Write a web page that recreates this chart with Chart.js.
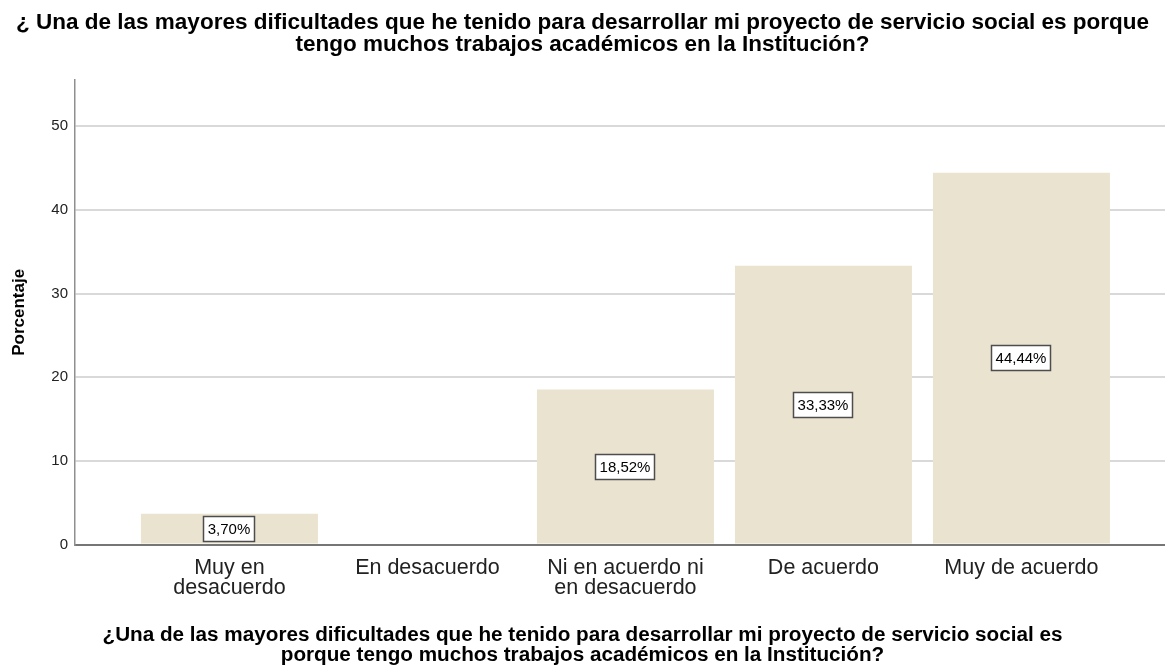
<!DOCTYPE html>
<html>
<head>
<meta charset="utf-8">
<script src="https://cdn.jsdelivr.net/npm/chart.js@4.4.1/dist/chart.umd.min.js"></script>
<style>
    html, body { margin: 0; padding: 0; background: #fff; }
    #wrap { width: 1165px; height: 669px; }
</style>
</head>
<body>
<div id="wrap"><canvas id="porcentajeChart" width="1165" height="669"></canvas></div>
<script>
const categorias = [["Muy en", "desacuerdo"], "En desacuerdo", ["Ni en acuerdo ni", "en desacuerdo"], "De acuerdo", "Muy de acuerdo"];
const porcentajes = [3.70, 0, 18.52, 33.33, 44.44];
const yTicks = [0, 10, 20, 30, 40, 50];
const tituloGrafico = [
    "¿ Una de las mayores dificultades que he tenido para desarrollar mi proyecto de servicio social es porque",
    "tengo muchos trabajos académicos en la Institución?"
];
const tituloEjeX = [
    "¿Una de las mayores dificultades que he tenido para desarrollar mi proyecto de servicio social es",
    "porque tengo muchos trabajos académicos en la Institución?"
];
const tituloEjeY = "Porcentaje";

const fuente = '"Liberation Sans", Arial, sans-serif';

// etiqueta con recuadro en el centro de cada barra
const etiquetasBarras = {
    id: "etiquetasBarras",
    afterDatasetsDraw(chart) {
        const ctx = chart.ctx;
        const meta = chart.getDatasetMeta(0);
        ctx.save();
        ctx.font = "15px " + fuente;
        ctx.textAlign = "center";
        ctx.textBaseline = "middle";
        meta.data.forEach((bar, i) => {
            const v = porcentajes[i];
            if (!v) return;
            const txt = v.toFixed(2).replace(".", ",") + "%";
            const w = Math.round(ctx.measureText(txt).width + 8);
            const h = 25;
            const cx = Math.round(bar.x);
            const cy = Math.round((bar.y + bar.base) / 2);
            ctx.fillStyle = "#ffffff";
            ctx.fillRect(cx - w / 2, cy - h / 2, w, h);
            ctx.strokeStyle = "#4d4d4d";
            ctx.lineWidth = 1.5;
            ctx.strokeRect(cx - w / 2, cy - h / 2, w, h);
            ctx.fillStyle = "#000";
            ctx.fillText(txt, cx, cy + 1);
        });
        ctx.restore();
    }
};

new Chart(document.getElementById("porcentajeChart").getContext("2d"), {
    type: "bar",
    data: {
        datasets: [{
            data: porcentajes.map((p, i) => ({ x: i, y: p })),
            backgroundColor: "#EAE3CF",
            borderWidth: 0,
            categoryPercentage: 1,
            barPercentage: 0.894
        }]
    },
    options: {
        responsive: false,
        animation: false,
        devicePixelRatio: 1,
        layout: { padding: 0 },
        plugins: {
            legend: { display: false },
            tooltip: { enabled: false },
            title: {
                display: true,
                text: tituloGrafico,
                color: "#000",
                font: { family: fuente, size: 22.5, weight: "bold", lineHeight: 0.98 },
                padding: { top: 12, bottom: 24 }
            },
            subtitle: {
                display: true,
                position: "bottom",
                text: tituloEjeX,
                color: "#000",
                font: { family: fuente, size: 20.7, weight: "bold", lineHeight: 1.0 },
                padding: { top: 0, bottom: 3 }
            }
        },
        scales: {
            x: {
                type: "linear",
                offset: false,
                min: -0.78,
                max: 4.725,
                afterBuildTicks: (scale) => { scale.ticks = categorias.map((c, i) => ({ value: i })); },
                afterFit: (scale) => { scale.height = 80; },
                grid: { display: false, drawTicks: false },
                border: { display: true, color: "#767676", width: 2 },
                ticks: {
                    autoSkip: false,
                    maxRotation: 0,
                    padding: 13,
                    color: "#222",
                    font: { family: fuente, size: 21.5, lineHeight: 0.95 },
                    callback: (v) => categorias[v]
                }
            },
            y: {
                min: 0,
                max: 55.5,
                afterBuildTicks: (scale) => { scale.ticks = yTicks.map(v => ({ value: v })); },
                afterFit: (scale) => { scale.width = 75; },
                grid: { color: "#d9d9d9", lineWidth: 2, drawTicks: false },
                border: { display: true, color: "#8f8f8f", width: 1.5 },
                ticks: {
                    padding: 7,
                    color: "#222",
                    font: { family: fuente, size: 15 }
                },
                title: {
                    display: true,
                    text: tituloEjeY,
                    color: "#000",
                    font: { family: fuente, size: 17, weight: "bold", lineHeight: 1.0 },
                    padding: { top: 11, bottom: 0 }
                }
            }
        }
    },
    plugins: [etiquetasBarras]
});
</script>
</body>
</html>
